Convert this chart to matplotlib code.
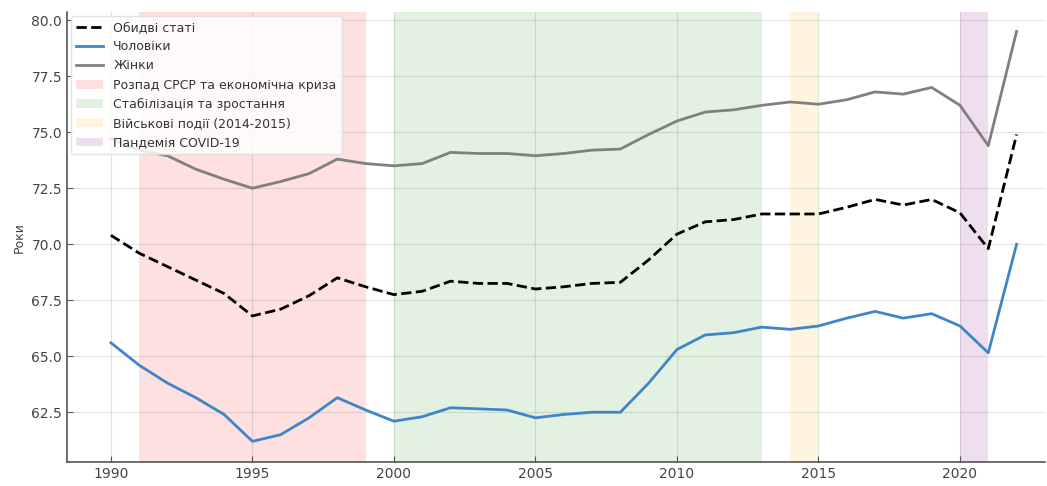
import matplotlib
matplotlib.use("Agg")
import matplotlib.pyplot as plt

years = list(range(1990, 2023))

both = [70.4, 69.6, 69.0, 68.4, 67.8, 66.8, 67.1, 67.7, 68.5, 68.1,
        67.75, 67.9, 68.35, 68.25, 68.25, 68.0, 68.1, 68.25, 68.3, 69.3,
        70.45, 71.0, 71.1, 71.35, 71.35, 71.35, 71.65, 72.0, 71.75, 72.0,
        71.4, 69.8, 74.9]
men = [65.6, 64.6, 63.8, 63.15, 62.4, 61.2, 61.5, 62.25, 63.15, 62.6,
       62.1, 62.3, 62.7, 62.65, 62.6, 62.25, 62.4, 62.5, 62.5, 63.8,
       65.3, 65.95, 66.05, 66.3, 66.2, 66.35, 66.7, 67.0, 66.7, 66.9,
       66.35, 65.15, 70.0]
women = [74.7, 74.2, 73.95, 73.35, 72.9, 72.5, 72.8, 73.15, 73.8, 73.6,
         73.5, 73.6, 74.1, 74.05, 74.05, 73.95, 74.05, 74.2, 74.25, 74.9,
         75.5, 75.9, 76.0, 76.2, 76.35, 76.25, 76.45, 76.8, 76.7, 77.0,
         76.2, 74.4, 79.5]

periods = [
    (1991, 1999, "red", 0.12, "Розпад СРСР та економічна криза"),
    (2000, 2013, "green", 0.11, "Стабілізація та зростання"),
    (2014, 2015, "orange", 0.12, "Військові події (2014-2015)"),
    (2020, 2021, "purple", 0.13, "Пандемія COVID-19"),
]

fig = plt.figure(figsize=(10.47, 4.86), dpi=100)
ax = fig.add_axes([0.064, 0.049, 0.934, 0.926])

ax.plot(years, both, "--", color="black", lw=2, label="Обидві статі")
ax.plot(years, men, color="#3f86c8", lw=2, label="Чоловіки")
ax.plot(years, women, color="gray", lw=2, label="Жінки")

for start, end, col, a, name in periods:
    ax.axvspan(start, end, color=col, alpha=a, lw=0, label=name)

ax.set_xlim(1988.45, 2023.0)
ax.set_ylim(60.27, 80.36)
ax.set_xticks([1990, 1995, 2000, 2005, 2010, 2015, 2020])
ax.set_yticks([62.5, 65.0, 67.5, 70.0, 72.5, 75.0, 77.5, 80.0])
ax.set_yticklabels([f"{v:.1f}" for v in ax.get_yticks()])
ax.set_ylabel("Роки", fontsize=9, color="#444444")

ax.grid(True, color="#dddddd", lw=0.8, alpha=0.8)
ax.set_axisbelow(True)
for s in ["top", "right"]:
    ax.spines[s].set_visible(False)
for s in ["left", "bottom"]:
    ax.spines[s].set_color("#555555")
    ax.spines[s].set_linewidth(1.2)
ax.tick_params(direction="in", length=4, color="#555555",
               labelsize=10, labelcolor="#444444")

leg = ax.legend(loc="upper left", fontsize=9, frameon=True, framealpha=0.85,
                edgecolor="#dddddd", borderaxespad=0.3, handlelength=2.2)
for t in leg.get_texts():
    t.set_color("#333333")

fig.savefig("out.png", dpi=100)
